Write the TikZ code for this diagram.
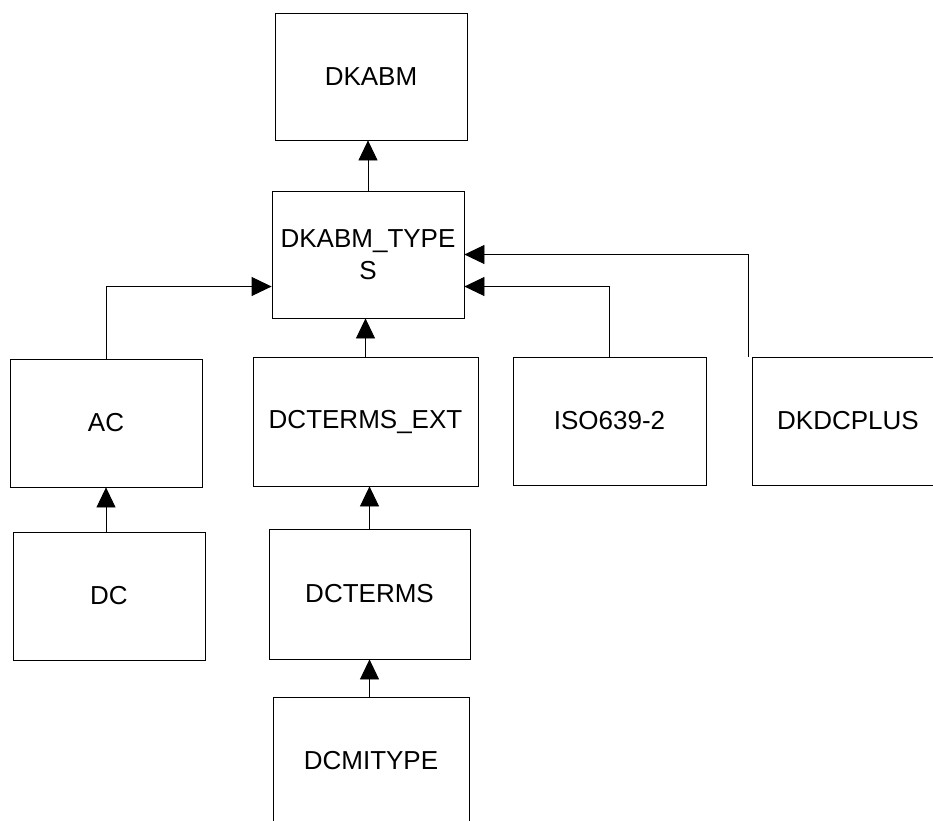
\documentclass[tikz,border=0pt]{standalone}
\usepackage{fontspec}
\setmainfont{Liberation Sans}
\usetikzlibrary{arrows.meta}
\tikzset{
  tblbox/.style={shape=rectangle,draw,line width=0.8pt,align=center,
    font=\fontsize{26}{32}\selectfont,inner sep=2pt},
  conn/.style={draw,line width=0.8pt,-{Triangle[length=20pt,width=19pt]}}
}
\begin{document}
\begin{tikzpicture}[x=1pt,y=-1pt]
    \useasboundingbox (0,0) rectangle (933,820);
    \node[tblbox,minimum width=192pt,minimum height=127pt] (dkabm) at (371,76.5) {DKABM};
    \node[tblbox,minimum width=192pt,minimum height=127pt] (dkabmtypes) at (368,254.5) {DKABM\_TYPE\\S};
    \node[tblbox,minimum width=192pt,minimum height=128pt] (ac) at (106,423) {AC};
    \node[tblbox,minimum width=225pt,minimum height=129pt] (dctermsext) at (365.5,421.5) {DCTERMS\_EXT};
    \node[tblbox,minimum width=193pt,minimum height=128pt] (iso) at (609.5,421) {ISO639-2};
    \node[tblbox,minimum width=192pt,minimum height=128pt] (dkdcplus) at (848,421) {DKDCPLUS};
    \node[tblbox,minimum width=192pt,minimum height=128pt] (dc) at (109,596) {DC};
    \node[tblbox,minimum width=201pt,minimum height=130pt] (dcterms) at (369.5,594) {DCTERMS};
    \node[tblbox,minimum width=196pt,minimum height=128pt] (dcmitype) at (371,761) {DCMITYPE};
    % connectors
    \draw[conn] (dkabmtypes.north) -- (dkabmtypes.north |- dkabm.south);
    \draw[conn] (ac.north) |- ([yshift=-32pt]dkabmtypes.west);
    \draw[conn] (dctermsext.north) -- (dctermsext.north |- dkabmtypes.south);
    \draw[conn] (iso.north) |- ([yshift=-32pt]dkabmtypes.east);
    \draw[conn] ([xshift=-3pt]dkdcplus.north west) |- (dkabmtypes.east);
    \draw[conn] (ac.south |- dc.north) -- (ac.south);
    \draw[conn] (dcterms.north) -- (dcterms.north |- dctermsext.south);
    \draw[conn] (dcterms.south |- dcmitype.north) -- (dcterms.south);
\end{tikzpicture}
\end{document}
